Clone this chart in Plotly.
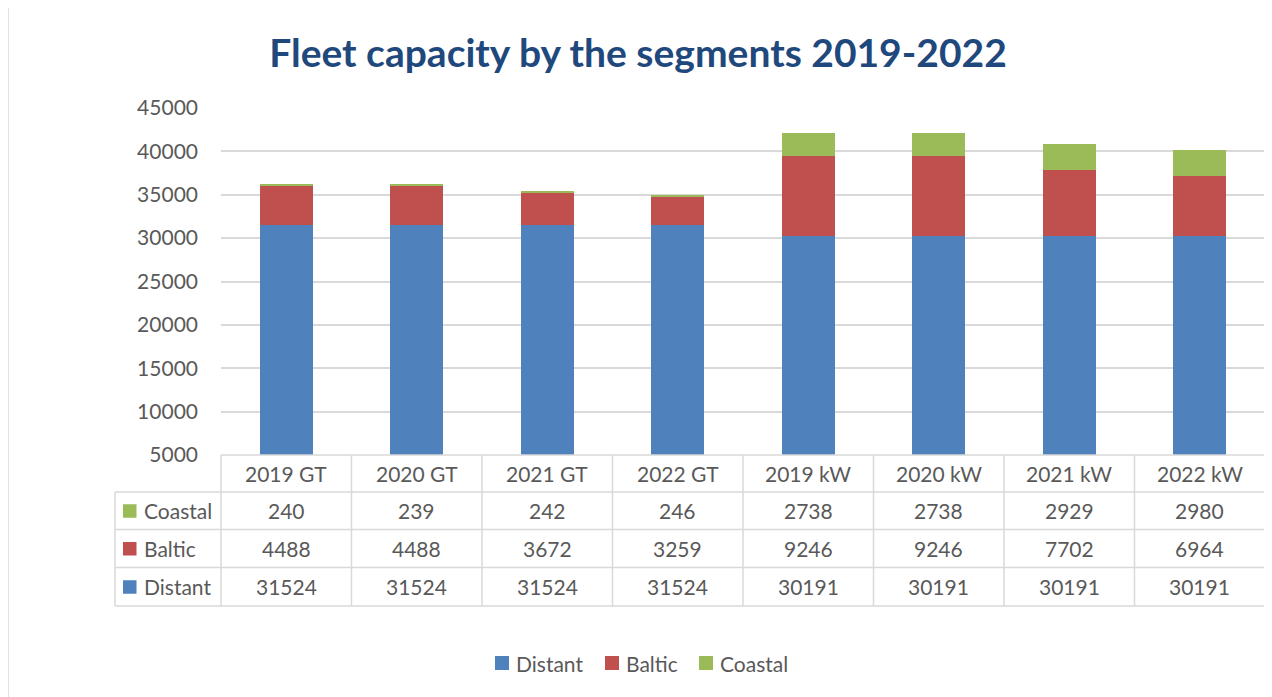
import plotly.graph_objects as go

categories = ["2019 GT", "2020 GT", "2021 GT", "2022 GT", "2019 kW", "2020 kW", "2021 kW", "2022 kW"]
distant = [31524, 31524, 31524, 31524, 30191, 30191, 30191, 30191]
baltic = [4488, 4488, 3672, 3259, 9246, 9246, 7702, 6964]
coastal = [240, 239, 242, 246, 2738, 2738, 2929, 2980]
y_ticks = [5000, 10000, 15000, 20000, 25000, 30000, 35000, 40000, 45000]

series = [("Distant", distant, "#4F81BD"), ("Baltic", baltic, "#C0504D"), ("Coastal", coastal, "#9BBB59")]
table_rows = [("Coastal", coastal, "#9BBB59"), ("Baltic", baltic, "#C0504D"), ("Distant", distant, "#4F81BD")]

# page offset (browser body margin)
OFF = 8
W, H = 1272 - OFF, 697 - OFF
# plot area in reference pixels
PL, PR, PT, PB = 221, 1265, 108, 455
L, R, T, B = PL - OFF, W - (PR - OFF), PT - OFF, H - (PB - OFF)
PW, PH = W - L - R, H - T - B
FONT = "Lato"
TXT = "#595959"
GRID = "#D9D9D9"


def px(x):
    return (x - PL) / PW


def py(y):
    return (PB - y) / PH


fig = go.Figure()
for name, vals, col in series:
    fig.add_trace(go.Bar(x=categories, y=vals, name=name, marker=dict(color=col, line=dict(width=0)),
                         showlegend=False))

shapes = []
annotations = []
n = len(categories)
row_edges = [455, 492, 529.5, 567.5, 606]
left_px = 115
for k, ye in enumerate(row_edges):
    x0 = 0 if k == 0 else px(left_px)
    shapes.append(dict(type="line", xref="paper", yref="paper", x0=x0, x1=1, y0=py(ye), y1=py(ye),
                       line=dict(color=GRID, width=1.5)))
for i in range(n + 1):
    shapes.append(dict(type="line", xref="paper", yref="paper", x0=i / n, x1=i / n,
                       y0=py(row_edges[0]), y1=py(row_edges[-1]), line=dict(color=GRID, width=1.5)))
shapes.append(dict(type="line", xref="paper", yref="paper", x0=px(left_px), x1=px(left_px),
                   y0=py(row_edges[1]), y1=py(row_edges[-1]), line=dict(color=GRID, width=1.5)))
# outer chart border (bottom edge lies below the visible page)
shapes.append(dict(type="rect", xref="paper", yref="paper", x0=px(8), x1=px(1267), y0=py(5), y1=py(730),
                   line=dict(color=GRID, width=1.5), layer="below"))

cell_font = dict(family=FONT, size=21, color=TXT)
for i, c in enumerate(categories):
    annotations.append(dict(x=c, xref="x", yref="paper", y=py((row_edges[0] + row_edges[1]) / 2),
                            text=c, showarrow=False, font=cell_font, xanchor="center", yanchor="middle"))
for r, (name, vals, col) in enumerate(table_rows):
    ycp = (row_edges[r + 1] + row_edges[r + 2]) / 2
    yc = py(ycp)
    for i, c in enumerate(categories):
        annotations.append(dict(x=c, xref="x", yref="paper", y=yc, text=str(vals[i]), showarrow=False,
                                font=cell_font, xanchor="center", yanchor="middle"))
    annotations.append(dict(x=px(142), xref="paper", yref="paper", y=yc, text=name, showarrow=False,
                            font=cell_font, xanchor="left", yanchor="middle"))
    shapes.append(dict(type="rect", xref="paper", yref="paper", x0=px(123), x1=px(136.5),
                       y0=py(ycp - 6.5), y1=py(ycp + 7), fillcolor=col, line=dict(width=0)))

# legend (drawn as key squares + labels)
legend_sq = [495, 605, 699]
leg_y = 663
for (name, vals, col), sx in zip(series, legend_sq):
    shapes.append(dict(type="rect", xref="paper", yref="paper", x0=px(sx), x1=px(sx + 14),
                       y0=py(leg_y - 7), y1=py(leg_y + 7), fillcolor=col, line=dict(width=0)))
    annotations.append(dict(x=px(sx + 19), xref="paper", yref="paper", y=py(leg_y), text=name,
                            showarrow=False, font=cell_font, xanchor="left", yanchor="middle"))

fig.update_layout(
    width=W, height=H,
    margin=dict(l=L, r=R, t=T, b=B),
    paper_bgcolor="white", plot_bgcolor="white",
    barmode="stack", bargap=0.594,
    title=dict(text="Fleet capacity by the segments 2019-2022", x=(638 - OFF) / W, xanchor="center",
               y=1 - (53 - OFF) / H, yanchor="middle", yref="container",
               font=dict(family=FONT, size=39, color="#1F497D", weight="bold")),
    xaxis=dict(range=[-0.5, n - 0.5], showticklabels=False, showgrid=False, zeroline=False,
               showline=False, ticks=""),
    yaxis=dict(range=[5000, 45000], tickvals=y_ticks, tickformat="d", showgrid=True, gridcolor=GRID,
               gridwidth=1.5, zeroline=False, showline=False, ticks="", ticklabelstandoff=22,
               tickfont=dict(family=FONT, size=21, color=TXT)),
    shapes=shapes, annotations=annotations,
    showlegend=False,
)

fig.write_html("out.html")
